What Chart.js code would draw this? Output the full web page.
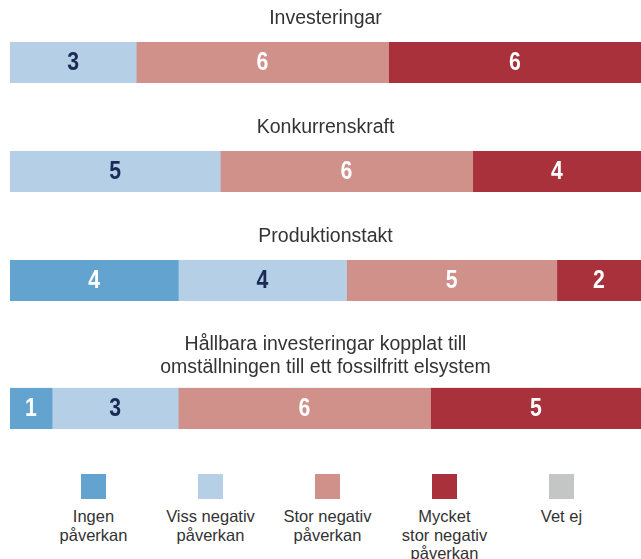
<!DOCTYPE html>
<html lang="sv">
<head>
  <meta charset="UTF-8">
  <title>Påverkan</title>
  <script src="https://cdn.jsdelivr.net/npm/chart.js"></script>
  <style>
    body { margin: 0; background: #fff; font-family: "Liberation Sans", Arial, sans-serif; }
    #wrap { position: relative; width: 641px; height: 559px; overflow: hidden; }
    .c { position: absolute; left: 0; }
    #legend { position: absolute; left: 0; top: 474px; width: 641px; }
    .item { position: absolute; top: 0; width: 116px; text-align: center; color: #333; font-size: 16.5px; line-height: 18.5px; }
    .sw { width: 25px; height: 25px; margin: 0 auto 8px auto; }
  </style>
</head>
<body>
<div id="wrap">
  <canvas id="c0" class="c"></canvas>
  <canvas id="c1" class="c"></canvas>
  <canvas id="c2" class="c"></canvas>
  <canvas id="c3" class="c"></canvas>
  <div id="legend"></div>
</div>
<script>
  // frågor (en stapel per fråga)
  const questions = [
    ["Investeringar"],
    ["Konkurrenskraft"],
    ["Produktionstakt"],
    ["Hållbara investeringar kopplat till", "omställningen till ett fossilfritt elsystem"]
  ];
  // svarsalternativ
  const answers = [
    ["Ingen", "påverkan"],
    ["Viss negativ", "påverkan"],
    ["Stor negativ", "påverkan"],
    ["Mycket", "stor negativ", "påverkan"],
    ["Vet ej"]
  ];
  const ingen  = [0, 0, 4, 1];
  const viss   = [3, 5, 4, 3];
  const stor   = [6, 6, 5, 6];
  const mycket = [6, 4, 2, 5];
  const vetEj  = [0, 0, 0, 0];

  const series = [ingen, viss, stor, mycket, vetEj];
  const colors = ["#63a3cf", "#b5cfe7", "#d1918b", "#a8313c", "#c4c5c5"];
  const labelColors = ["#ffffff", "#1c2b55", "#ffffff", "#ffffff", "#ffffff"];

  const tops = [0, 108.5, 217.5, 326.3];
  const padBottom = [12.1, 12.1, 12.1, 9.4];
  const titleSize = 19.5, titleLH = 1.15;

  const valueLabels = {
    id: "valueLabels",
    afterDatasetsDraw(chart) {
      const ctx = chart.ctx;
      chart.data.datasets.forEach((ds, i) => {
        chart.getDatasetMeta(i).data.forEach((bar, j) => {
          const v = ds.data[j];
          if (!v) return;
          ctx.save();
          ctx.translate((bar.x + bar.base) / 2, bar.y + 1);
          ctx.scale(0.85, 1); // smalare siffror
          ctx.font = "bold 25px 'Liberation Sans', Arial, sans-serif";
          ctx.textAlign = "center";
          ctx.textBaseline = "middle";
          ctx.fillStyle = labelColors[i];
          ctx.fillText(v, 0, 0);
          ctx.restore();
        });
      });
    }
  };

  questions.forEach((q, k) => {
    const canvas = document.getElementById("c" + k);
    const titleH = 7.5 + q.length * titleSize * titleLH + padBottom[k];
    canvas.width = 641;
    canvas.height = Math.round(titleH + 41);
    canvas.style.top = tops[k] + "px";

    new Chart(canvas, {
      type: "bar",
      data: {
        labels: [q.join(" ")],
        datasets: series.map((s, i) => ({
          label: answers[i].join(" "),
          data: [s[k] || null],
          backgroundColor: colors[i],
          borderWidth: 0,
          barPercentage: 1,
          categoryPercentage: 1
        }))
      },
      options: {
        indexAxis: "y",
        responsive: false,
        animation: false,
        layout: { padding: { left: 10, right: 0, top: 0, bottom: 0 } },
        scales: {
          x: { stacked: true, min: 0, max: 15, display: false },
          y: { stacked: true, display: false }
        },
        plugins: {
          legend: { display: false },
          tooltip: { enabled: false },
          title: {
            display: true,
            text: q,
            color: "#333",
            font: { family: "'Liberation Sans', Arial, sans-serif", size: titleSize, weight: "normal", lineHeight: titleLH },
            padding: { top: 7.5, bottom: padBottom[k] }
          }
        }
      },
      plugins: [valueLabels]
    });
  });

  // förklaring
  const centers = [93.5, 210.5, 327.5, 444.5, 561.5];
  const legend = document.getElementById("legend");
  answers.forEach((a, i) => {
    const it = document.createElement("div");
    it.className = "item";
    it.style.left = (centers[i] - 58) + "px";
    const sw = document.createElement("div");
    sw.className = "sw";
    sw.style.background = colors[i];
    it.appendChild(sw);
    a.forEach(line => {
      const d = document.createElement("div");
      d.textContent = line;
      it.appendChild(d);
    });
    legend.appendChild(it);
  });
</script>
</body>
</html>
